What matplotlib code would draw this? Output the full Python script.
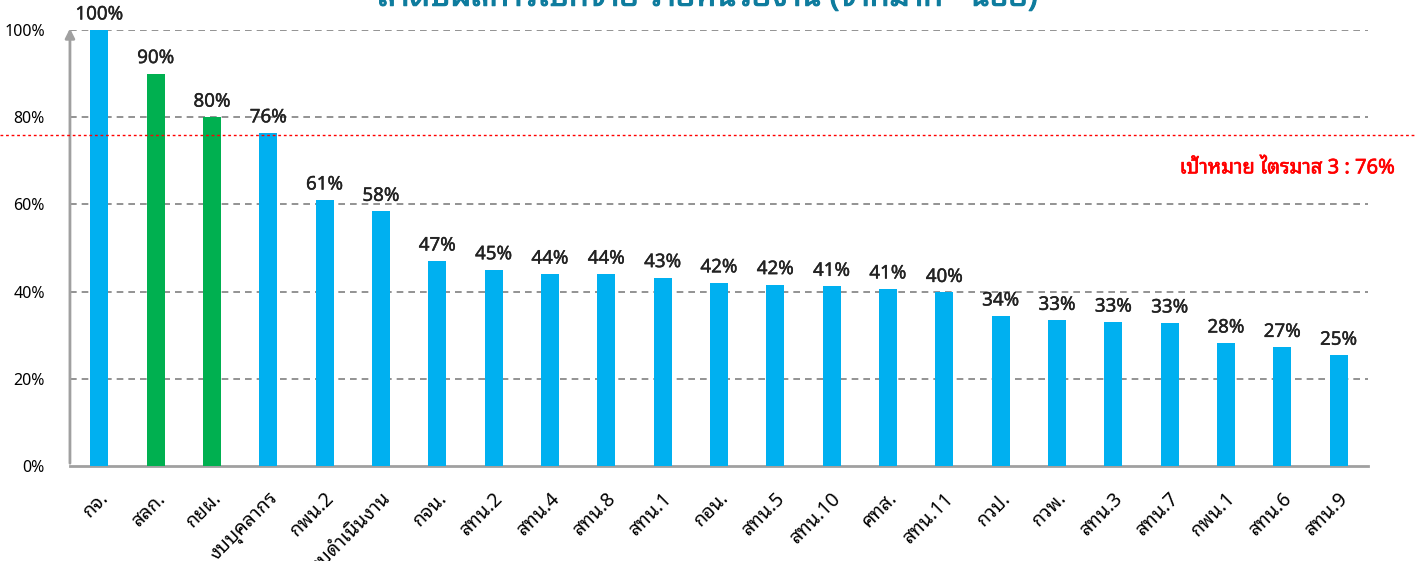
import matplotlib
matplotlib.use('agg')
import matplotlib.pyplot as plt
import matplotlib.patheffects as pe
from matplotlib import font_manager

# look for a font that can draw Thai (looped ones first), fall back to DejaVu
names = sorted(set(f.name for f in font_manager.fontManager.ttflist))
preferred = ['Tahoma', 'Noto Sans Thai Looped', 'Loma', 'Garuda', 'Waree', 'Tlwg Typo', 'Norasi']
thai = [n for n in preferred if n in names]
thai += [n for n in names if 'Thai' in n and n not in thai]
plt.rcParams['font.family'] = thai + ['DejaVu Sans', 'Noto Sans CJK SC']

units = ['กจ.', 'สลก.', 'กยผ.', 'งบบุคลากร', 'กพน.2', 'งบดำเนินงาน', 'กจน.', 'สทน.2', 'สทน.4',
         'สทน.8', 'สทน.1', 'กอน.', 'สทน.5', 'สทน.10', 'ศทส.', 'สทน.11', 'กวป.', 'กวพ.',
         'สทน.3', 'สทน.7', 'กพน.1', 'สทน.6', 'สทน.9']
values = [100, 90, 80, 76.4, 61, 58.4, 47, 45, 44, 44, 43.2, 42, 41.6, 41.2, 40.6, 39.8,
          34.4, 33.4, 33, 32.8, 28.2, 27.2, 25.4]
highlight = ['สลก.', 'กยผ.']
target = 76
target_text = 'เป้าหมาย ไตรมาส 3 : 76%'
title = 'ลำดับผลการเบิกจ่าย รายหน่วยงาน (จากมาก - น้อย)'

blue = '#00B0F0'
green = '#00B050'
colors = [green if u in highlight else blue for u in units]

def thicken(c, w):
    # the Thai font may have no bold face, so fake it with a thin outline
    return [pe.withStroke(linewidth=w, foreground=c)]

fig = plt.figure(figsize=(14.16, 5.61), dpi=100)
ax = fig.add_axes([0.0494, 0.1693, 0.9166, 0.7772])

x = range(len(units))
ax.bar(x, values, width=0.32, color=colors, zorder=3)
for i, v in enumerate(values):
    ax.text(i, v + 1.5, '{:.0f}%'.format(v), ha='center', va='bottom',
            fontsize=13.5, color='#222222', clip_on=False,
            path_effects=thicken('#222222', 0.3))

ax.set_xlim(-0.52, len(units) - 0.48)
ax.set_ylim(0, 100)
ax.set_yticks([0, 20, 40, 60, 80, 100])
ax.set_yticklabels(['{}%'.format(t) for t in [0, 20, 40, 60, 80, 100]], fontsize=11.5)
for t in [20, 40, 60, 80, 100]:
    ax.axhline(t, color='#808080', lw=1.2, ls=(0, (4, 3)), zorder=1)

ax.set_xticks(list(x))
ax.set_xticklabels(units, rotation=45, ha='right', rotation_mode='anchor', fontsize=14)
ax.tick_params(axis='y', length=0, pad=18)
ax.tick_params(axis='x', length=0, pad=16)

for s in ['top', 'right', 'left']:
    ax.spines[s].set_visible(False)
ax.spines['bottom'].set_color('#A0A0A0')
ax.spines['bottom'].set_linewidth(2)
ax.annotate('', xy=(-0.52, 101), xytext=(-0.52, 0), xycoords='data',
            arrowprops=dict(arrowstyle='-|>', color='#A0A0A0', lw=2, mutation_scale=14),
            annotation_clip=False)

# target line across the whole figure
ty = ax.transData.transform((0, target))[1]
fig.add_artist(plt.Line2D([0, 1], [ty / fig.bbox.height] * 2, transform=fig.transFigure,
                          color='#FF0000', lw=1, ls=(0, (2, 2))))
fig.text(0.985, 0.70, target_text, ha='right', va='center', color='#FF0000',
         fontsize=14.5, path_effects=thicken('#FF0000', 0.5))

fig.text(0.5, 1.005, title, ha='center', va='center', color='#0E7C9E',
         fontsize=23, path_effects=thicken('#0E7C9E', 0.8))

plt.savefig('out.png', format='png')
plt.close()
